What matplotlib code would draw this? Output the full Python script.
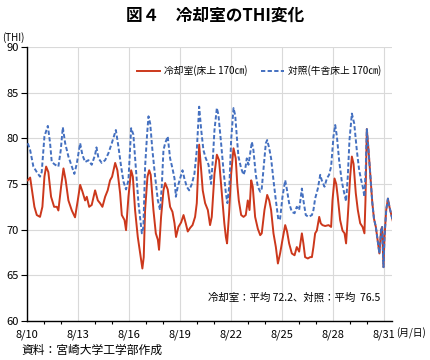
import matplotlib
matplotlib.use("Agg")
import matplotlib.pyplot as plt
import numpy as np

plt.rcParams['font.family'] = ['Noto Sans CJK JP', 'DejaVu Sans']

# ---- data (day of August, THI) ----
control_days = [10.04, 10.18, 10.37, 10.57, 10.76, 10.86, 11.02, 11.22, 11.35, 11.45, 11.65, 11.84, 11.98,
                12.1, 12.24, 12.43, 12.63, 12.78, 12.92, 13.12, 13.25, 13.41, 13.61, 13.8, 14.0, 14.08, 14.2,
                14.39, 14.59, 14.78, 14.98, 15.22, 15.37, 15.53, 15.67, 15.82, 15.96, 16.12, 16.25, 16.39,
                16.55, 16.75, 16.84, 16.94, 17.06, 17.14, 17.24, 17.37, 17.53, 17.69, 17.82, 17.92, 18.02,
                18.12, 18.27, 18.41, 18.55, 18.67, 18.75, 18.86, 19.0, 19.14, 19.25, 19.39, 19.53, 19.69,
                19.84, 19.98, 20.12, 20.24, 20.37, 20.51, 20.67, 20.82, 20.92, 21.02, 21.16, 21.25, 21.41,
                21.55, 21.69, 21.78, 21.9, 22.0, 22.14, 22.24, 22.35, 22.43, 22.59, 22.73, 22.82, 22.92,
                23.02, 23.12, 23.22, 23.31, 23.45, 23.57, 23.71, 23.8, 23.94, 24.04, 24.12, 24.24, 24.35,
                24.49, 24.63, 24.78, 24.88, 25.02, 25.18, 25.27, 25.41, 25.57, 25.73, 25.86, 26.0, 26.16,
                26.25, 26.39, 26.55, 26.75, 26.84, 26.94, 27.1, 27.24, 27.33, 27.49, 27.63, 27.76, 27.88,
                28.02, 28.12, 28.22, 28.35, 28.51, 28.65, 28.76, 28.86, 28.96, 29.1, 29.24, 29.39, 29.53,
                29.65, 29.75, 29.84, 29.92]
control_thi = [79.45, 78.7, 76.9, 76.3, 75.8, 76.3, 80.2, 81.35, 79.5, 77.4, 77.1, 76.9, 78.7,
               81.2, 79.45, 78.0, 76.9, 76.1, 77.2, 79.45, 78.2, 77.4, 77.6, 77.1, 78.2, 79.0, 77.8,
               77.3, 77.6, 78.35, 79.45, 80.9, 79.1, 76.9, 75.25, 74.4, 75.4, 81.1, 80.4, 76.9,
               72.9, 69.6, 70.3, 76.9, 80.5, 82.4, 81.6, 78.7, 75.8, 73.2, 72.15, 74.7, 78.7,
               79.45, 80.2, 77.8, 76.7, 75.6, 73.6, 74.7, 75.6, 76.5, 75.6, 74.7, 74.3, 75.0,
               76.1, 78.7, 83.45, 80.9, 78.7, 77.8, 77.1, 75.0, 77.6, 80.9, 83.3, 82.6, 79.45,
               76.5, 74.0, 72.9, 75.0, 79.8, 83.3, 82.5, 79.8, 78.0, 76.7, 76.0, 76.5, 77.8,
               77.1, 78.35, 79.6, 78.7, 76.0, 74.7, 74.15, 74.5, 77.4, 79.45, 79.8, 78.9, 77.8,
               75.4, 73.2, 71.05, 71.2, 73.6, 75.4, 74.5, 72.9, 71.95, 71.8, 72.5, 72.15, 74.5,
               73.2, 71.6, 71.4, 71.6, 72.15, 73.4, 74.5, 76.0, 75.4, 74.7, 75.6, 76.0, 76.9,
               80.2, 81.45, 80.2, 77.6, 75.25, 74.0, 73.1, 75.8, 79.8, 82.7, 81.6, 78.7, 76.5,
               75.4, 74.6, 73.6, 76.9]

cool_days = [10.04, 10.18, 10.31, 10.43, 10.57, 10.76, 10.9, 11.02, 11.12, 11.25, 11.41, 11.59, 11.75,
             11.84, 12.0, 12.14, 12.27, 12.43, 12.63, 12.82, 12.98, 13.12, 13.25, 13.41, 13.51, 13.65,
             13.8, 14.0, 14.16, 14.29, 14.43, 14.59, 14.74, 14.88, 15.0, 15.18, 15.31, 15.47, 15.57,
             15.73, 15.82, 15.96, 16.12, 16.22, 16.35, 16.51, 16.65, 16.78, 16.86, 16.94, 17.08, 17.18,
             17.27, 17.43, 17.57, 17.69, 17.76, 17.88, 18.02, 18.12, 18.27, 18.41, 18.55, 18.67, 18.76,
             18.9, 19.06, 19.2, 19.33, 19.45, 19.59, 19.73, 19.88, 19.98, 20.12, 20.24, 20.33, 20.47,
             20.63, 20.76, 20.86, 21.02, 21.16, 21.29, 21.45, 21.6, 21.69, 21.76, 21.88, 22.0, 22.14,
             22.27, 22.36, 22.45, 22.59, 22.73, 22.86, 22.98, 23.08, 23.18, 23.27, 23.41, 23.57, 23.71,
             23.8, 23.96, 24.12, 24.24, 24.35, 24.49, 24.63, 24.75, 24.88, 25.02, 25.18, 25.29, 25.41,
             25.57, 25.73, 25.86, 26.0, 26.16, 26.25, 26.35, 26.51, 26.65, 26.75, 26.84, 26.94, 27.04,
             27.18, 27.27, 27.37, 27.53, 27.73, 27.88, 27.96, 28.08, 28.18, 28.27, 28.41, 28.55, 28.67,
             28.76, 28.86, 29.0, 29.1, 29.2, 29.33, 29.45, 29.59, 29.73, 29.84, 29.9]
cool_thi = [75.4, 75.7, 74.0, 72.5, 71.6, 71.4, 72.5, 75.8, 76.9, 76.3, 73.6, 72.5, 72.5,
            72.1, 74.7, 76.7, 75.4, 73.2, 72.1, 71.35, 73.2, 74.9, 74.2, 73.2, 73.6, 72.5,
            72.7, 74.3, 73.2, 72.9, 72.5, 73.6, 74.3, 75.4, 75.8, 77.3, 76.5, 74.0, 71.6,
            71.05, 69.95, 73.6, 76.5, 75.8, 72.15, 69.2, 67.4, 65.75, 67.0, 72.15, 75.8, 76.5,
            76.0, 72.15, 69.6, 68.9, 67.8, 71.4, 74.3, 75.1, 74.4, 72.5, 71.95, 70.7, 69.2,
            70.3, 70.8, 71.6, 70.7, 69.8, 70.2, 70.5, 71.4, 72.9, 79.3, 76.5, 74.3, 72.9,
            72.15, 70.5, 71.4, 76.1, 78.2, 77.6, 74.0, 70.7, 69.2, 68.5, 71.8, 76.1, 78.9,
            77.8, 75.0, 73.2, 71.6, 71.4, 71.6, 73.2, 72.15, 75.4, 74.7, 71.4, 70.1, 69.4,
            69.6, 72.15, 73.8, 73.2, 72.15, 69.6, 68.1, 66.3, 67.4, 68.9, 70.5, 69.8, 68.5,
            67.4, 67.2, 68.1, 67.6, 69.6, 68.5, 67.0, 66.85, 67.0, 67.0, 68.1, 69.6, 69.9,
            71.4, 70.7, 70.5, 70.4, 70.5, 70.3, 73.2, 75.6, 75.0, 73.6, 71.05, 69.9, 69.6,
            68.5, 71.4, 75.8, 78.0, 77.2, 74.0, 72.15, 70.7, 70.3, 69.6, 73.2]

# final segment where both sensors read the same
shared_days = [29.98, 30.08, 30.2, 30.3, 30.4, 30.51, 30.61, 30.72, 30.82, 30.88, 30.96, 31.02,
               31.12, 31.22, 31.31, 31.45, 31.5]
shared_thi = [81.0, 78.7, 75.5, 73.0, 71.2, 70.3, 68.9, 67.4, 70.0, 70.3, 65.9, 69.2,
              72.15, 73.4, 72.5, 71.4, 71.0]

tick_days = [10, 13, 16, 19, 22, 25, 28, 31]
tick_labels = ["8/10", "8/13", "8/16", "8/19", "8/22", "8/25", "8/28", "8/31"]

RED = "#CC381C"
BLUE = "#4470C0"

fig = plt.figure(figsize=(4.3, 3.6), dpi=100)
ax = fig.add_axes([0.063, 0.108, 0.849, 0.762])

ax.plot(cool_days + shared_days, cool_thi + shared_thi, color=RED, lw=1.4,
        label="冷却室(床上 170㎝)", zorder=3)
ax.plot(control_days + shared_days, control_thi + shared_thi, color=BLUE, lw=1.4,
        ls=(0, (2.2, 1.2)), label="対照(牛舎床上 170㎝)", zorder=4)

ax.set_xlim(10, 31.47)
ax.set_ylim(60, 90)
ax.set_yticks(np.arange(60, 91, 5))
ax.set_xticks(tick_days)
ax.set_xticklabels(tick_labels)
ax.set_xticks(np.arange(10, 32, 1), minor=True)
ax.grid(True, which='major', color="#D9D9D9", lw=0.8)
ax.set_axisbelow(True)
for s in ["top", "right"]:
    ax.spines[s].set_visible(False)
ax.spines["left"].set_linewidth(1.0)
ax.spines["bottom"].set_linewidth(1.0)
ax.tick_params(axis='both', which='major', labelsize=8, length=4, width=0.8, direction='out')
ax.tick_params(axis='x', which='minor', length=2.5, width=0.8)
ax.tick_params(axis='x', which='major', length=0, pad=6)
ax.tick_params(axis='y', pad=2)

leg = ax.legend(loc='center', bbox_to_anchor=(0.635, 0.912), ncol=2, frameon=False,
                fontsize=7, handlelength=2.4, columnspacing=1.4, handletextpad=0.4)

ax.text(0.967, 0.084, "冷却室：平均 72.2、対照：平均  76.5", transform=ax.transAxes,
        ha='right', va='center', fontsize=7.5)

fig.text(0.5, 0.955, "図４　冷却室のTHI変化", ha='center', va='center', fontsize=12, fontweight='bold')
fig.text(0.004, 0.897, "(THI)", ha='left', va='center', fontsize=7)
fig.text(0.922, 0.075, "(月/日)", ha='left', va='center', fontsize=7)
fig.text(0.051, 0.027, "資料：宮崎大学工学部作成", ha='left', va='center', fontsize=8.5)

fig.savefig("out.png", dpi=100)
